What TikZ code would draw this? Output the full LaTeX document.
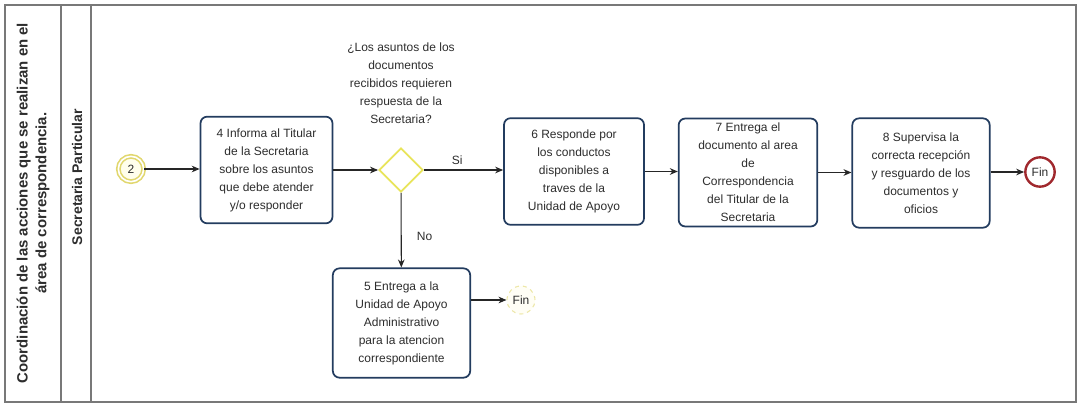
\documentclass[tikz,border=0pt]{standalone}
\usepackage{fontspec}
\setmainfont{Liberation Sans}
\usetikzlibrary{arrows.meta,shapes.geometric}
\definecolor{boxline}{RGB}{35,60,95}
\definecolor{gateyel}{RGB}{232,228,90}
\definecolor{startyel}{RGB}{225,215,110}
\definecolor{endred}{RGB}{160,40,45}
\definecolor{lanegray}{RGB}{120,120,120}
\definecolor{txt}{RGB}{45,45,45}
\begin{document}
\begin{tikzpicture}[x=0.75pt,y=-0.75pt,
  task/.style={draw=boxline,line width=1.3pt,fill=white,rounded corners=5pt,
    align=center,font=\fontsize{9}{13.5}\selectfont,text=txt,inner sep=2pt},
  flow/.style={-{Stealth[length=6pt,width=5pt]},line width=0.8pt,draw=black!85},
  lbl/.style={font=\fontsize{9}{13.5}\selectfont,text=txt}]
\useasboundingbox (0,0) rectangle (1079,414);
% pool and lane
\draw[lanegray,line width=0.8pt] (5,5) rectangle (1076,402);
\draw[lanegray,line width=0.8pt] (61,5) -- (61,402);
\draw[lanegray,line width=0.8pt] (91,5) -- (91,402);
\node[rotate=90,align=center,font=\bfseries\fontsize{11.2}{14}\selectfont,text=txt] (pool) at (33,203)
  {Coordinación de las acciones que se realizan en el\\área de correspondencia.};
\node[rotate=90,font=\bfseries\fontsize{10.5}{13}\selectfont,text=txt] (lane) at (77,177) {Secretaria Particular};
% tasks
\node[task,minimum width=99pt,minimum height=80pt] (t4) at (266.5,170) {4 Informa al Titular\\de la Secretaria\\sobre los asuntos\\que debe atender\\y/o responder};
\node[task,minimum width=105pt,minimum height=80pt] (t6) at (574,171.5) {6 Responde por\\los conductos\\disponibles a\\traves de la\\Unidad de Apoyo};
\node[task,minimum width=104pt,minimum height=81pt] (t7) at (748,172.5) {7 Entrega el\\documento al area\\de\\Correspondencia\\del Titular de la\\Secretaria};
\node[task,minimum width=103pt,minimum height=82pt] (t8) at (921,173) {8 Supervisa la\\correcta recepción\\y resguardo de los\\documentos y\\oficios};
\node[task,minimum width=103pt,minimum height=82pt] (t5) at (401.5,323) {5 Entrega a la\\Unidad de Apoyo\\Administrativo\\para la atencion\\correspondiente};
% gateway
\node[diamond,draw=gateyel,line width=1.4pt,fill=white,minimum width=33pt,minimum height=33pt,inner sep=0pt] (g) at (401,170) {};
\node[lbl,align=center,anchor=south] (q) at (401,128) {¿Los asuntos de los\\documentos\\recibidos requieren\\respuesta de la\\Secretaria?};
% events
\node[circle,draw=startyel,line width=1.2pt,double=white,double distance=1.2pt,fill=yellow!8,minimum size=19pt,inner sep=0pt,font=\fontsize{9}{10}\selectfont,text=txt] (s) at (131,169) {2};
\node[circle,draw=endred,line width=1.8pt,fill=white,minimum size=22pt,inner sep=0pt,font=\fontsize{9}{10}\selectfont,text=txt] (e1) at (1040,172) {Fin};
\node[circle,draw=startyel!60,line width=0.8pt,dashed,fill=yellow!4,minimum size=21pt,inner sep=0pt,font=\fontsize{9}{10}\selectfont,text=txt] (e2) at (521,300) {Fin};
% flows
\draw[flow] (s) -- (s -| t4.west);
\draw[flow] (t4) -- (g);
\draw[flow] (g) -- node[lbl,above,pos=0.42] (si) {Si} (g -| t6.west);
\draw[flow] (g) -- node[lbl,right,pos=0.58,xshift=8pt] (no) {No} (t5);
\draw[flow] (t6.east |- t6) -- (t6 -| t7.west);
\draw[flow] (t7.east |- t7) -- (t7 -| t8.west);
\draw[flow] (t8.east |- e1) -- (e1);
\draw[flow] (t5.east |- e2) -- (e2);
\end{tikzpicture}
\end{document}
